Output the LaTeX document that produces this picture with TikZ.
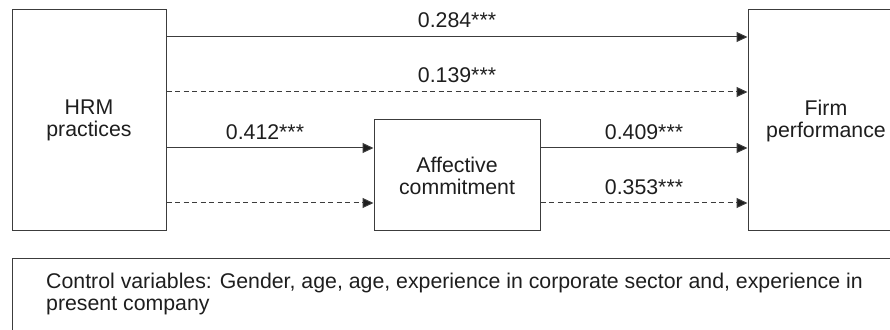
\documentclass[tikz,border=0pt]{standalone}
\usepackage{fontspec}
\setmainfont{Liberation Sans}
\usetikzlibrary{arrows.meta}
\definecolor{lc}{HTML}{3C3C3C}
\definecolor{tc}{HTML}{1E1E1E}
\begin{document}
\begin{tikzpicture}[x=1pt,y=1pt,
  txt/.style={font=\fontsize{21.3}{22}\selectfont, text=tc},
  box/.style={draw=lc, line width=1pt, fill=white, inner sep=0pt, align=center, txt},
  arr/.style={draw=lc, line width=1pt, -{Triangle[length=11pt,width=10pt,fill=tc]}},
  dsh/.style={dash pattern=on 5pt off 3.5pt},
  lab/.style={txt, anchor=base, inner sep=0pt}]
\useasboundingbox (0,0) rectangle (890,329);
\clip (0,0) rectangle (890,329);
\node[box, minimum width=154pt, minimum height=221pt] (hrm) at (89,208.5) {HRM\\practices};
\node[box, minimum width=166pt, minimum height=111pt] (aff) at (457,153.5) {Affective\\commitment};
\node[box, minimum width=156pt, minimum height=221pt] (firm) at (826,208.5) {Firm\\performance};
\node[draw=lc, line width=1pt, anchor=north west, minimum width=950pt, minimum height=120pt, inner sep=0pt] (ctrlbox) at (12,71) {};
\node[txt, anchor=north west, inner sep=0pt, align=left] (ctrl) at (46,56.5) {Control variables: Gender, age, age, experience in corporate sector and, experience in\\present company};
\coordinate (r1) at (0,292);
\coordinate (r2) at (0,237);
\coordinate (r3) at (0,181);
\coordinate (r4) at (0,126);
\draw[arr] (hrm.east |- r1) -- (firm.west |- r1);
\draw[arr,dsh] (hrm.east |- r2) -- (firm.west |- r2);
\draw[arr] (hrm.east |- r3) -- (aff.west |- r3);
\draw[arr,dsh] (hrm.east |- r4) -- (aff.west |- r4);
\draw[arr] (aff.east |- r3) -- (firm.west |- r3);
\draw[arr,dsh] (aff.east |- r4) -- (firm.west |- r4);
\node[lab] (l1) at (457,301.5) {0.284***};
\node[lab] (l2) at (457,246.5) {0.139***};
\node[lab] (l3) at (265,189) {0.412***};
\node[lab] (l4) at (644,189) {0.409***};
\node[lab] (l5) at (644,134) {0.353***};
\end{tikzpicture}
\end{document}
